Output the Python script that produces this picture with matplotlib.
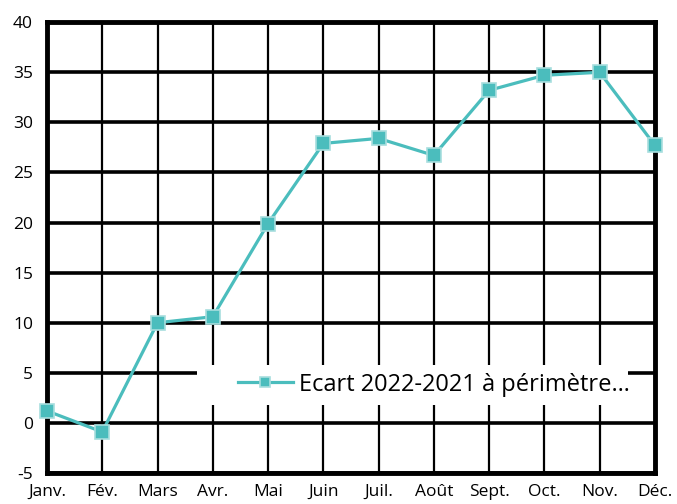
import matplotlib
matplotlib.use("Agg")
import matplotlib.pyplot as plt
from matplotlib.patches import Rectangle

months = ["Janv.", "Fév.", "Mars", "Avr.", "Mai", "Juin", "Juil.", "Août", "Sept.", "Oct.", "Nov.", "Déc."]
values = [1.2, -0.9, 10.0, 10.6, 19.9, 27.9, 28.4, 26.7, 33.2, 34.7, 35.0, 27.7]
yticks = [-5, 0, 5, 10, 15, 20, 25, 30, 35, 40]
series_label = "Ecart 2022-2021 à périmètre…"

plt.rcParams['font.family'] = ['Open Sans', 'DejaVu Sans']
plt.rcParams['axes.unicode_minus'] = False

fig = plt.figure(figsize=(6.77, 5.04), dpi=100)
ax = fig.add_axes([0.0694, 0.0615, 0.898, 0.8945])

x = list(range(len(months)))
ax.plot(x, values, color="#4BBDBD", lw=2.3, marker="s", markersize=9.5,
        markerfacecolor="#4BBDBD", markeredgecolor="#A8DEDE", markeredgewidth=1.2,
        clip_on=False, zorder=5, label=series_label)

ax.set_xlim(0, len(months) - 1)
ax.set_ylim(-5, 40)
ax.set_yticks(yticks)
ax.set_xticks(x)
ax.set_xticklabels(months)

for yv in yticks:
    ax.axhline(yv, color="black", lw=2.6, zorder=1)
for xv in x:
    ax.axvline(xv, color="black", lw=1.6, zorder=1)

for s in ax.spines.values():
    s.set_linewidth(3.5)
    s.set_color("black")
    s.set_zorder(3)

ax.tick_params(axis="both", length=0, colors="black")
ax.tick_params(axis="y", pad=10, labelsize=12.5)
ax.tick_params(axis="x", pad=8, labelsize=12.5)

# white box behind the legend
ax.add_patch(Rectangle((0.247, 0.151), 0.709, 0.089, transform=ax.transAxes,
                       facecolor="white", edgecolor="none", zorder=2.5))

leg = ax.legend(loc="center right", bbox_to_anchor=(0.958, 0.196),
                frameon=False, fontsize=17, handlelength=2.3,
                handletextpad=0.25, borderpad=0, borderaxespad=0,
                markerscale=0.8)
leg.set_zorder(6)

fig.savefig("out.png", dpi=100)
